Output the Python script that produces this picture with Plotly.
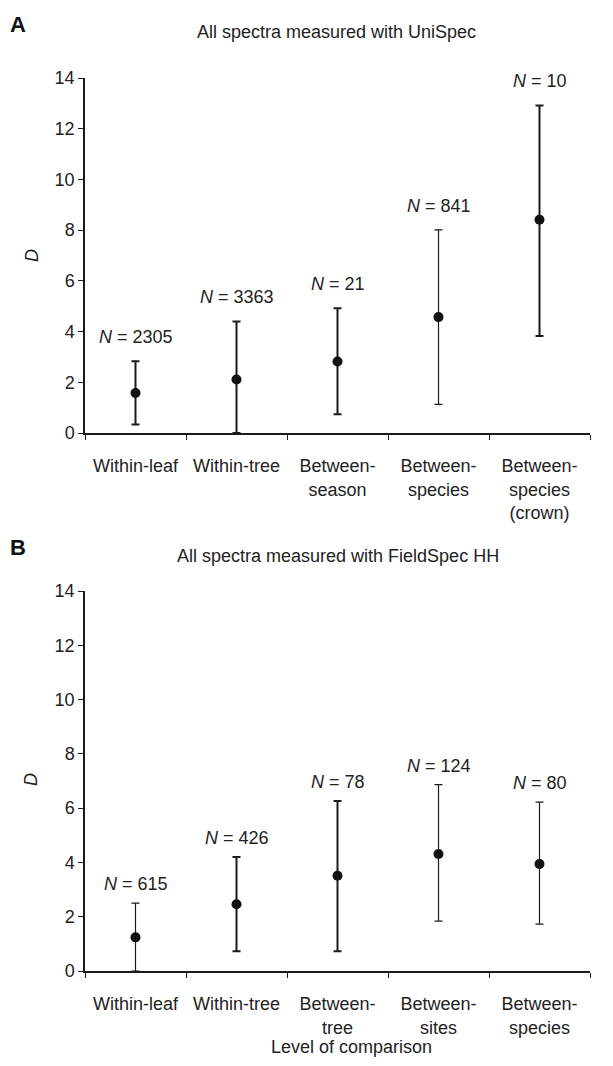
import plotly.graph_objects as go

# Panel A: UniSpec
cats_a = ["Within-leaf", "Within-tree", "Between-<br>season", "Between-<br>species", "Between-<br>species<br>(crown)"]
mean_a = [1.58, 2.11, 2.82, 4.57, 8.41]
upper_a = [2.83, 4.40, 4.92, 8.01, 12.92]
lower_a = [0.34, 0.0, 0.74, 1.13, 3.83]
n_a = ["2305", "3363", "21", "841", "10"]

# Panel B: FieldSpec HH
cats_b = ["Within-leaf", "Within-tree", "Between-<br>tree", "Between-<br>sites", "Between-<br>species"]
mean_b = [1.24, 2.46, 3.51, 4.31, 3.94]
upper_b = [2.50, 4.20, 6.26, 6.87, 6.22]
lower_b = [0.0, 0.73, 0.73, 1.84, 1.73]
n_b = ["615", "426", "78", "124", "80"]

y_ticks = [0, 2, 4, 6, 8, 10, 12, 14]

# error bar line widths (styling)
thick_a = [2, 2, 2, 1.2, 2]
thick_b = [1.2, 2, 2, 1.2, 1.2]

FONT = "Liberation Sans, Arial, sans-serif"
TXT = "#222222"
FS = 18

# the page body has an 8px default margin; work in page pixels and shift
OFF = 8
W, H = 605, 1050
PLOT_L, PLOT_R, PLOT_T, PLOT_B = 85, 590, 78, 971  # page pixel positions of plot area
L = PLOT_L - OFF
T = PLOT_T - OFF
R = W - (PLOT_R - OFF)
B = H - (PLOT_B - OFF)
PW, PH = W - L - R, H - T - B


def px_x(px):
    return (px - OFF - L) / PW


def px_y(py):
    return (PLOT_B - py) / PH


fig = go.Figure()


def add_panel(cats, mean, upper, lower, thick, xa, ya):
    for c, m, u, l, t in zip(cats, mean, upper, lower, thick):
        fig.add_trace(go.Scatter(
            x=[c], y=[m], mode="markers", xaxis=xa, yaxis=ya,
            marker=dict(color="#111111", size=10),
            error_y=dict(type="data", symmetric=False, array=[u - m], arrayminus=[m - l],
                         color="#1a1a1a", thickness=t, width=4),
            showlegend=False, cliponaxis=False,
        ))


add_panel(cats_a, mean_a, upper_a, lower_a, thick_a, "x2", "y2")
add_panel(cats_b, mean_b, upper_b, lower_b, thick_b, "x", "y")

annots = []
for c, u, n in zip(cats_a, upper_a, n_a):
    annots.append(dict(x=c, y=u, xref="x2", yref="y2", text=f"<i>N</i> = {n}", showarrow=False,
                       yanchor="middle", yshift=24, font=dict(size=FS, color=TXT, family=FONT)))
for c, u, n in zip(cats_b, upper_b, n_b):
    annots.append(dict(x=c, y=u, xref="x", yref="y", text=f"<i>N</i> = {n}", showarrow=False,
                       yanchor="middle", yshift=19, font=dict(size=FS, color=TXT, family=FONT)))

annots += [
    dict(x=px_x(8), y=px_y(25), xref="paper", yref="paper", text="<b>A</b>", showarrow=False,
         xanchor="left", yanchor="middle", font=dict(size=22, color="#111", family=FONT)),
    dict(x=px_x(8), y=px_y(547), xref="paper", yref="paper", text="<b>B</b>", showarrow=False,
         xanchor="left", yanchor="middle", font=dict(size=22, color="#111", family=FONT)),
    dict(x=px_x(336), y=px_y(32), xref="paper", yref="paper", text="All spectra measured with UniSpec",
         showarrow=False, xanchor="center", yanchor="middle", font=dict(size=FS, color=TXT, family=FONT)),
    dict(x=px_x(338), y=px_y(556), xref="paper", yref="paper", text="All spectra measured with FieldSpec HH",
         showarrow=False, xanchor="center", yanchor="middle", font=dict(size=FS, color=TXT, family=FONT)),
    dict(x=px_x(32), y=px_y(256), xref="paper", yref="paper", text="<i>D</i>", textangle=-90,
         showarrow=False, xanchor="center", yanchor="middle", font=dict(size=FS, color=TXT, family=FONT)),
    dict(x=px_x(31), y=px_y(780), xref="paper", yref="paper", text="<i>D</i>", textangle=-90,
         showarrow=False, xanchor="center", yanchor="middle", font=dict(size=FS, color=TXT, family=FONT)),
    dict(x=px_x(351), y=px_y(1047), xref="paper", yref="paper", text="Level of comparison",
         showarrow=False, xanchor="center", yanchor="middle", font=dict(size=FS, color=TXT, family=FONT)),
]

fig.update_layout(
    width=W, height=H,
    margin=dict(l=L, r=R, t=T, b=B),
    paper_bgcolor="white", plot_bgcolor="white",
    font=dict(family=FONT, size=FS, color=TXT),
    annotations=annots,
)

axis_common = dict(
    showline=True, linecolor="#1a1a1a", linewidth=1.5, ticks="outside", ticklen=5,
    tickcolor="#1a1a1a", tickwidth=1.2, showgrid=False, zeroline=False, automargin=False,
    tickfont=dict(size=FS, color=TXT, family=FONT),
)

fig.update_layout(
    xaxis=dict(domain=[0, 1], anchor="y", type="category", tickson="boundaries",
               range=[-0.5, 4.5], categoryorder="array", categoryarray=cats_b,
               ticklabelstandoff=16, **axis_common),
    yaxis=dict(domain=[0, px_y(591)], anchor="x", range=[0, 14], tickvals=y_ticks,
               ticklabelstandoff=0, **axis_common),
    xaxis2=dict(domain=[0, 1], anchor="y2", type="category", tickson="boundaries",
                range=[-0.5, 4.5], categoryorder="array", categoryarray=cats_a,
                ticklabelstandoff=16, **axis_common),
    yaxis2=dict(domain=[px_y(433), 1], anchor="x2", range=[0, 14], tickvals=y_ticks,
                ticklabelstandoff=0, **axis_common),
)

fig.write_html("out.html")
